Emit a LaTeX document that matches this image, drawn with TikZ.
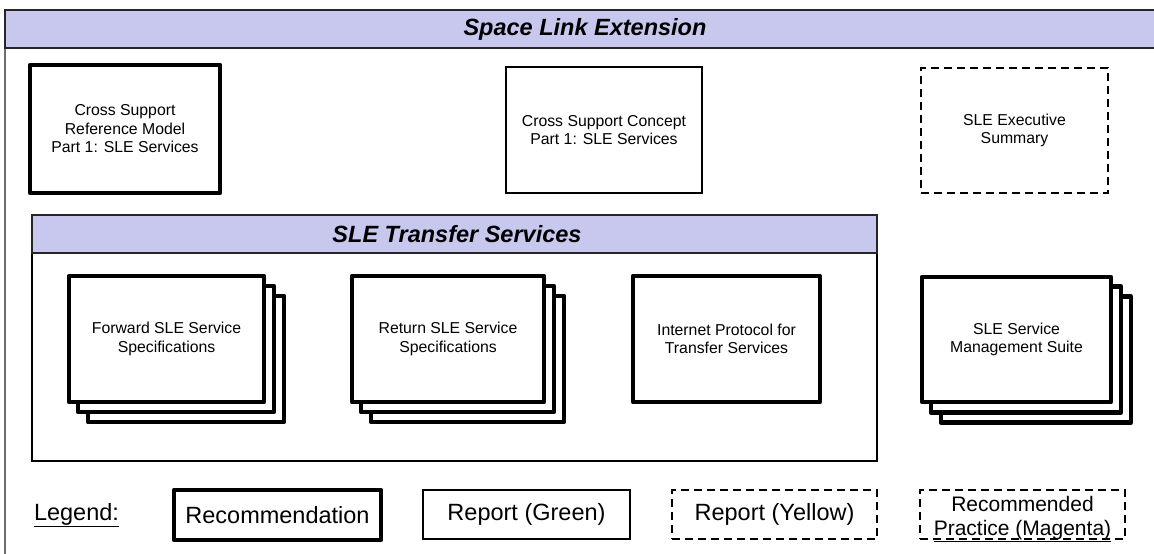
\documentclass[tikz,border=0pt]{standalone}
\usepackage{fontspec}
\setmainfont{Liberation Sans}
\definecolor{bandfill}{RGB}{200,200,238}
\definecolor{framegray}{RGB}{110,110,110}
\tikzset{
  boxtext/.style={align=center, inner sep=0pt, font=\fontsize{15.8}{18.5}\selectfont},
  recbox/.style={boxtext, draw=black, line width=4.3pt, line join=round, fill=white},
  greenbox/.style={boxtext, draw=black, line width=1.3pt, fill=white},
  yellowbox/.style={boxtext, draw=black, line width=2.5pt, dash pattern=on 8pt off 5pt, fill=white},
  band/.style={draw=black!85, line width=1.4pt, fill=bandfill},
  title/.style={font=\fontsize{23.5}{26}\selectfont\bfseries\itshape},
  legendtext/.style={font=\fontsize{23.5}{26}\selectfont},
  magtext/.style={inner sep=0pt, anchor=base, font=\fontsize{21}{24}\selectfont},
  backsheet/.style={draw=black, line width=4.3pt, line join=round, fill=white},
}
\begin{document}
\begin{tikzpicture}[x=1pt, y=-1pt]
\useasboundingbox (0,0) rectangle (1154,554);

% outer frame with header band
\draw[framegray, line width=2pt] (5,10) -- (5,560);
\draw[band] (5,10) rectangle (1162,48);
\node[title] (sle) at (585,29) {Space Link Extension};

% top row of documents
\node[recbox, minimum width=190pt, minimum height=128pt] (csrm) at (125,129)
  {Cross Support\\Reference Model\\Part 1: SLE Services};
\node[greenbox, minimum width=196pt, minimum height=126pt] (csc) at (604,130)
  {Cross Support Concept\\Part 1: SLE Services};
\node[yellowbox, minimum width=187pt, minimum height=125pt] (exec) at (1014.5,130.5)
  {SLE Executive\\Summary};

% transfer services container
\draw[black, line width=1.4pt, fill=white] (32,215) rectangle (877,461);
\draw[band] (32,215) rectangle (877,253);
\node[title] (tsvc) at (457,234) {SLE Transfer Services};

% stacked document sets: two sheets behind each front sheet
\foreach \cx/\cy/\w in {166.5/339/195, 448/339/192, 1016.5/339.5/189}{
  \draw[backsheet] (\cx-\w/2+19,\cy-63+20) rectangle (\cx+\w/2+20,\cy+63+20);
  \draw[backsheet] (\cx-\w/2+9,\cy-63+10) rectangle (\cx+\w/2+10,\cy+63+10);
}
\node[recbox, minimum width=195pt, minimum height=126pt] (fwd) at (166.5,339)
  {Forward SLE Service\\Specifications};
\node[recbox, minimum width=192pt, minimum height=126pt] (ret) at (448,339)
  {Return SLE Service\\Specifications};
\node[recbox, minimum width=187pt, minimum height=126pt] (ip) at (726.5,339)
  {Internet Protocol for\\Transfer Services};
\node[recbox, minimum width=189pt, minimum height=125pt] (mgmt) at (1016.5,339.5)
  {SLE Service\\Management Suite};

% legend
\node[legendtext] (legend) at (76.5,515) {\underline{Legend:}};
\node[recbox, legendtext, minimum width=207pt, minimum height=50pt] (lrec) at (277.5,515)
  {Recommendation};
\node[greenbox, legendtext, minimum width=207pt, minimum height=49pt] (lgreen) at (526.5,514.5)
  {Report (Green)};
\node[yellowbox, legendtext, minimum width=205pt, minimum height=49pt] (lyellow) at (774.5,514.5)
  {Report (Yellow)};
\node[yellowbox, minimum width=205pt, minimum height=49pt] (lmag) at (1022.5,514.5) {};
\node[magtext] (lmag1) at (1022.5,511) {Recommended};
\node[magtext] (lmag2) at (1022.5,535) {\underline{Practice (Magenta)}};
\end{tikzpicture}
\end{document}
